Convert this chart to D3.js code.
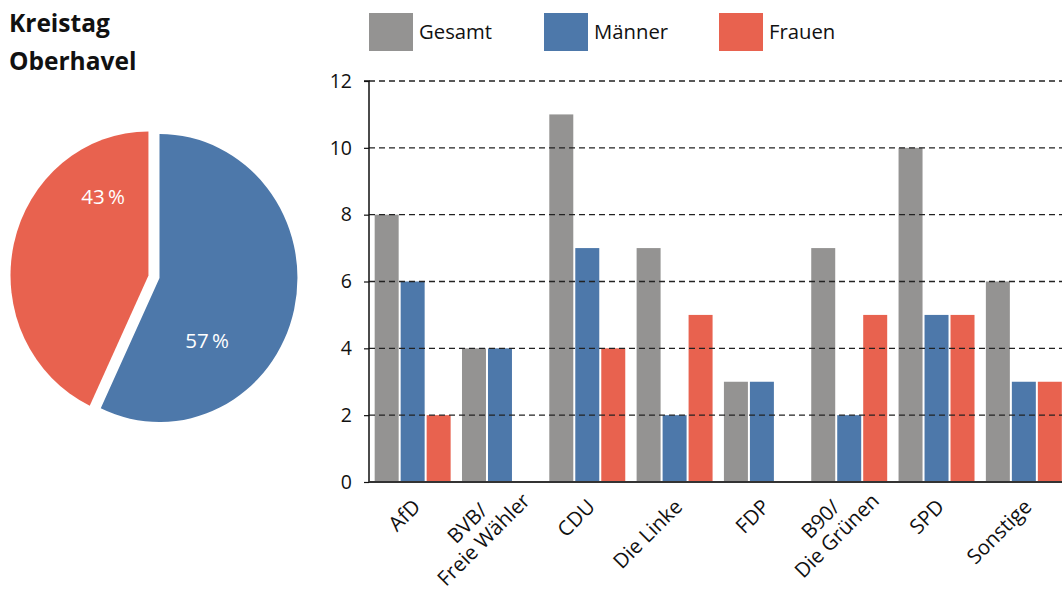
<!DOCTYPE html>
<html><head><meta charset="utf-8">
<script src="https://cdn.jsdelivr.net/npm/d3@7/dist/d3.min.js"></script>
<style>
body{margin:0;background:#fff;}
svg{display:block;font-family:"Open Sans",sans-serif;}
</style></head>
<body><svg id="c" width="1062" height="594"></svg>
<script>
// ---- data ----
const titleLines = ["Kreistag", "Oberhavel"];
const categories = ["AfD", "BVB/\nFreie Wähler", "CDU", "Die Linke", "FDP", "B90/\nDie Grünen", "SPD", "Sonstige"];
const seriesNames = ["Gesamt", "Männer", "Frauen"];
const gesamt  = [8, 4, 11, 7, 3, 7, 10, 6];
const maenner = [6, 4, 7, 2, 3, 2, 5, 3];
const frauen  = [2, 0, 4, 5, 0, 5, 5, 3];
const yTicks = [0, 2, 4, 6, 8, 10, 12];
const pieLabels = ["Männer", "Frauen"];
const pieValues = [57, 43];
const colors = ["#949392", "#4d78aa", "#e8624f"];

const svg = d3.select("#c");

// ---- title ----
svg.append("text").attr("x", 9).attr("y", 32)
  .attr("font-size", 24.5).attr("font-weight", "bold").attr("fill", "#111")
  .selectAll("tspan").data(titleLines).join("tspan")
  .attr("x", 9).attr("dy", (d, i) => i ? 38 : 0).text(d => d);

// ---- pie ----
const pieGen = d3.pie().sort(null).value(d => d);
const arcs = pieGen(pieValues);
const R = 144, sx = 0.958;
const arcGen = d3.arc().innerRadius(0).outerRadius(R);
const pieCenter = [159.5, 278];
const explode = [0, 11.8];
const labelPos = [[0.69, 80], [0.80, 92]]; // fraction along slice, radius
const pieColors = [colors[1], colors[2]];
arcs.forEach((a, i) => {
  const mid = (a.startAngle + a.endAngle) / 2;
  const ox = Math.sin(mid) * explode[i] * sx, oy = -Math.cos(mid) * explode[i];
  const cx = pieCenter[0] + ox, cy = pieCenter[1] + oy;
  svg.append("path")
    .attr("transform", `translate(${cx},${cy}) scale(${sx},1)`)
    .attr("d", arcGen(a)).attr("fill", pieColors[i]);
  const la = a.startAngle + labelPos[i][0] * (a.endAngle - a.startAngle);
  svg.append("text")
    .attr("x", cx + Math.sin(la) * labelPos[i][1] * sx)
    .attr("y", cy - Math.cos(la) * labelPos[i][1])
    .attr("dy", "0.35em").attr("text-anchor", "middle")
    .attr("font-size", 20.5).attr("fill", "#fff")
    .text(pieValues[i] + "\u2009%");
});

// ---- bar chart ----
const pLeft = 369, pBottom = 482, pTop = 81, pRight = 1067.5, clipRight = 1062;
const y = d3.scaleLinear().domain([0, 12]).range([pBottom, pTop]);
const x0 = d3.scaleBand().domain(categories).range([pLeft, pRight]).paddingInner(0.13).paddingOuter(0.065);
const x1 = d3.scaleBand().domain(seriesNames).range([0, x0.bandwidth()]).paddingInner(2 / 26);
const data = categories.map((c, i) => ({c, vals: [gesamt[i], maenner[i], frauen[i]]}));

const g = svg.append("g");
g.selectAll("g.cat").data(data).join("g").attr("class", "cat")
  .attr("transform", d => `translate(${x0(d.c)},0)`)
  .selectAll("rect").data(d => d.vals.map((v, k) => ({v, k})).filter(e => e.v > 0)).join("rect")
  .attr("x", e => x1(seriesNames[e.k])).attr("width", x1.bandwidth())
  .attr("y", e => y(e.v)).attr("height", e => y(0) - y(e.v))
  .attr("fill", e => colors[e.k]);

// gridlines
g.selectAll("line.grid").data(yTicks.filter(t => t > 0)).join("line")
  .attr("x1", pLeft).attr("x2", clipRight).attr("y1", d => y(d)).attr("y2", d => y(d))
  .attr("stroke", "#222").attr("stroke-width", 1.3).attr("stroke-dasharray", "6,4");

// y axis
const yAxis = d3.axisLeft(y).tickValues(yTicks).tickSize(5).tickPadding(12);
const ya = svg.append("g").attr("transform", `translate(${pLeft},0)`).call(yAxis);
ya.select(".domain").attr("stroke", "#111").attr("stroke-width", 1.5).attr("d", `M-5,${pTop}H0V${pBottom}`);
ya.selectAll(".tick line").attr("stroke", "#111").attr("stroke-width", 1.2);
ya.selectAll(".tick text").attr("font-size", 19.5).attr("font-family", "Open Sans").attr("fill", "#111");

// baseline
svg.append("line").attr("x1", pLeft).attr("x2", clipRight).attr("y1", pBottom).attr("y2", pBottom)
  .attr("stroke", "#333").attr("stroke-width", 2);

// x labels
const lineH = 23;
data.forEach(d => {
  const lines = d.c.split("\n");
  const cx = x0(d.c) + x0.bandwidth() / 2;
  const n = lines.length;
  const t = svg.append("text").attr("font-size", 20.5).attr("fill", "#111")
    .attr("transform", `translate(${cx + 9},${pBottom + 26}) rotate(-45)`);
  const spans = t.selectAll("tspan").data(lines).join("tspan").text(s => s);
  let maxW = 0;
  spans.each(function () { maxW = Math.max(maxW, this.getComputedTextLength()); });
  const along = n > 1 ? 20 : 0;
  spans.attr("text-anchor", "middle").attr("x", -maxW / 2 + along)
    .attr("y", (s, i) => (i - (n - 1) / 2) * lineH);
});

// legend
const lg = svg.append("g");
const legX = [369, 544, 719];
seriesNames.forEach((s, i) => {
  lg.append("rect").attr("x", legX[i]).attr("y", 13).attr("width", 44).attr("height", 38).attr("fill", colors[i]);
  lg.append("text").attr("x", legX[i] + 50).attr("y", 39).attr("font-size", 20.3).attr("fill", "#111").text(s);
});
</script></body></html>
